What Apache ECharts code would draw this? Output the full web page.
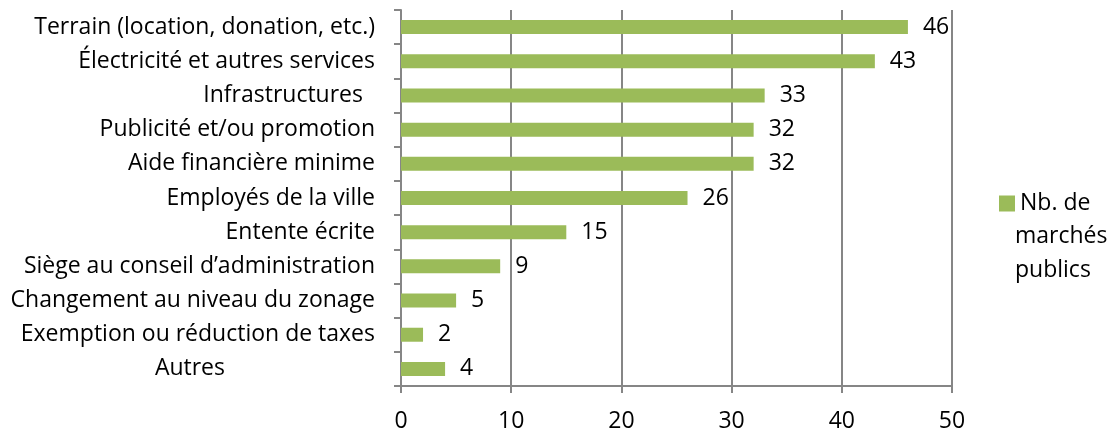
<!DOCTYPE html>
<html>
<head>
<meta charset="utf-8">
<script src="https://cdn.jsdelivr.net/npm/echarts@6/dist/echarts.min.js"></script>
<style>
  html, body { margin: 0; padding: 0; background: #fff; }
  #chart { width: 1113px; height: 433px; }
</style>
</head>
<body>
<div id="chart"></div>
<script>
// categories listed bottom to top (ECharts category axis goes upward)
const categories = [
  'Autres',
  'Exemption ou réduction de taxes',
  'Changement au niveau du zonage',
  'Siège au conseil d’administration',
  'Entente écrite',
  'Employés de la ville',
  'Aide financière minime',
  'Publicité et/ou promotion',
  'Infrastructures',
  'Électricité et autres services',
  'Terrain (location, donation, etc.)',
]
const values = [4, 2, 5, 9, 15, 26, 32, 32, 33, 43, 46]
const seriesName = 'Nb. de marchés publics'
const legendLines = ['Nb. de', 'marchés', 'publics']

const font = 'Open Sans'
const fontSize = 23
const axisGray = '#868686'
const barGreen = '#9BBB59'

// Excel does not right-align every label the same way
const labelShift = { 'Autres': 'shiftBig', 'Infrastructures': 'shiftSmall' }

const chart = echarts.init(document.getElementById('chart'))
chart.setOption({
  animation: false,
  grid: { left: 401, right: 161, top: 10, bottom: 45 },
  legend: {
    data: [seriesName],
    left: 994,
    top: 187,
    itemWidth: 16,
    itemHeight: 16,
    itemGap: 0,
    icon: 'rect',
    formatter: () => legendLines[0],
    textStyle: { fontFamily: font, fontSize: fontSize, color: '#000' },
  },
  graphic: [{
    type: 'text',
    left: 1015,
    top: 219,
    style: {
      text: legendLines.slice(1).join('\n'),
      font: `${fontSize}px "${font}"`,
      lineHeight: 34,
      fill: '#000',
    },
  }],
  xAxis: {
    type: 'value',
    min: 0,
    max: 50,
    interval: 10,
    axisLine: { show: true, lineStyle: { color: axisGray, width: 2 } },
    axisTick: { show: true, length: 7, lineStyle: { color: axisGray, width: 2 } },
    axisLabel: { fontFamily: font, fontSize: fontSize, color: '#000', margin: 24 },
    splitLine: { show: true, lineStyle: { color: axisGray, width: 2 } },
  },
  yAxis: {
    type: 'category',
    data: categories,
    axisLine: { show: true, lineStyle: { color: axisGray, width: 2 } },
    axisTick: { show: true, length: 7, lineStyle: { color: axisGray, width: 2 } },
    axisLabel: {
      fontFamily: font,
      fontSize: fontSize,
      color: '#000',
      margin: 26,
      formatter: (v) => labelShift[v] ? `{${labelShift[v]}|${v}}` : v,
      rich: {
        shiftBig: { fontFamily: font, fontSize: fontSize, color: '#000', padding: [0, 150, 0, 0] },
        shiftSmall: { fontFamily: font, fontSize: fontSize, color: '#000', padding: [0, 12, 0, 0] },
      },
    },
  },
  series: [{
    name: seriesName,
    type: 'bar',
    data: values,
    barWidth: 14,
    itemStyle: { color: barGreen },
    label: {
      show: true,
      position: 'right',
      distance: 15,
      fontFamily: font,
      fontSize: fontSize,
      color: '#000',
    },
  }],
})
</script>
</body>
</html>
